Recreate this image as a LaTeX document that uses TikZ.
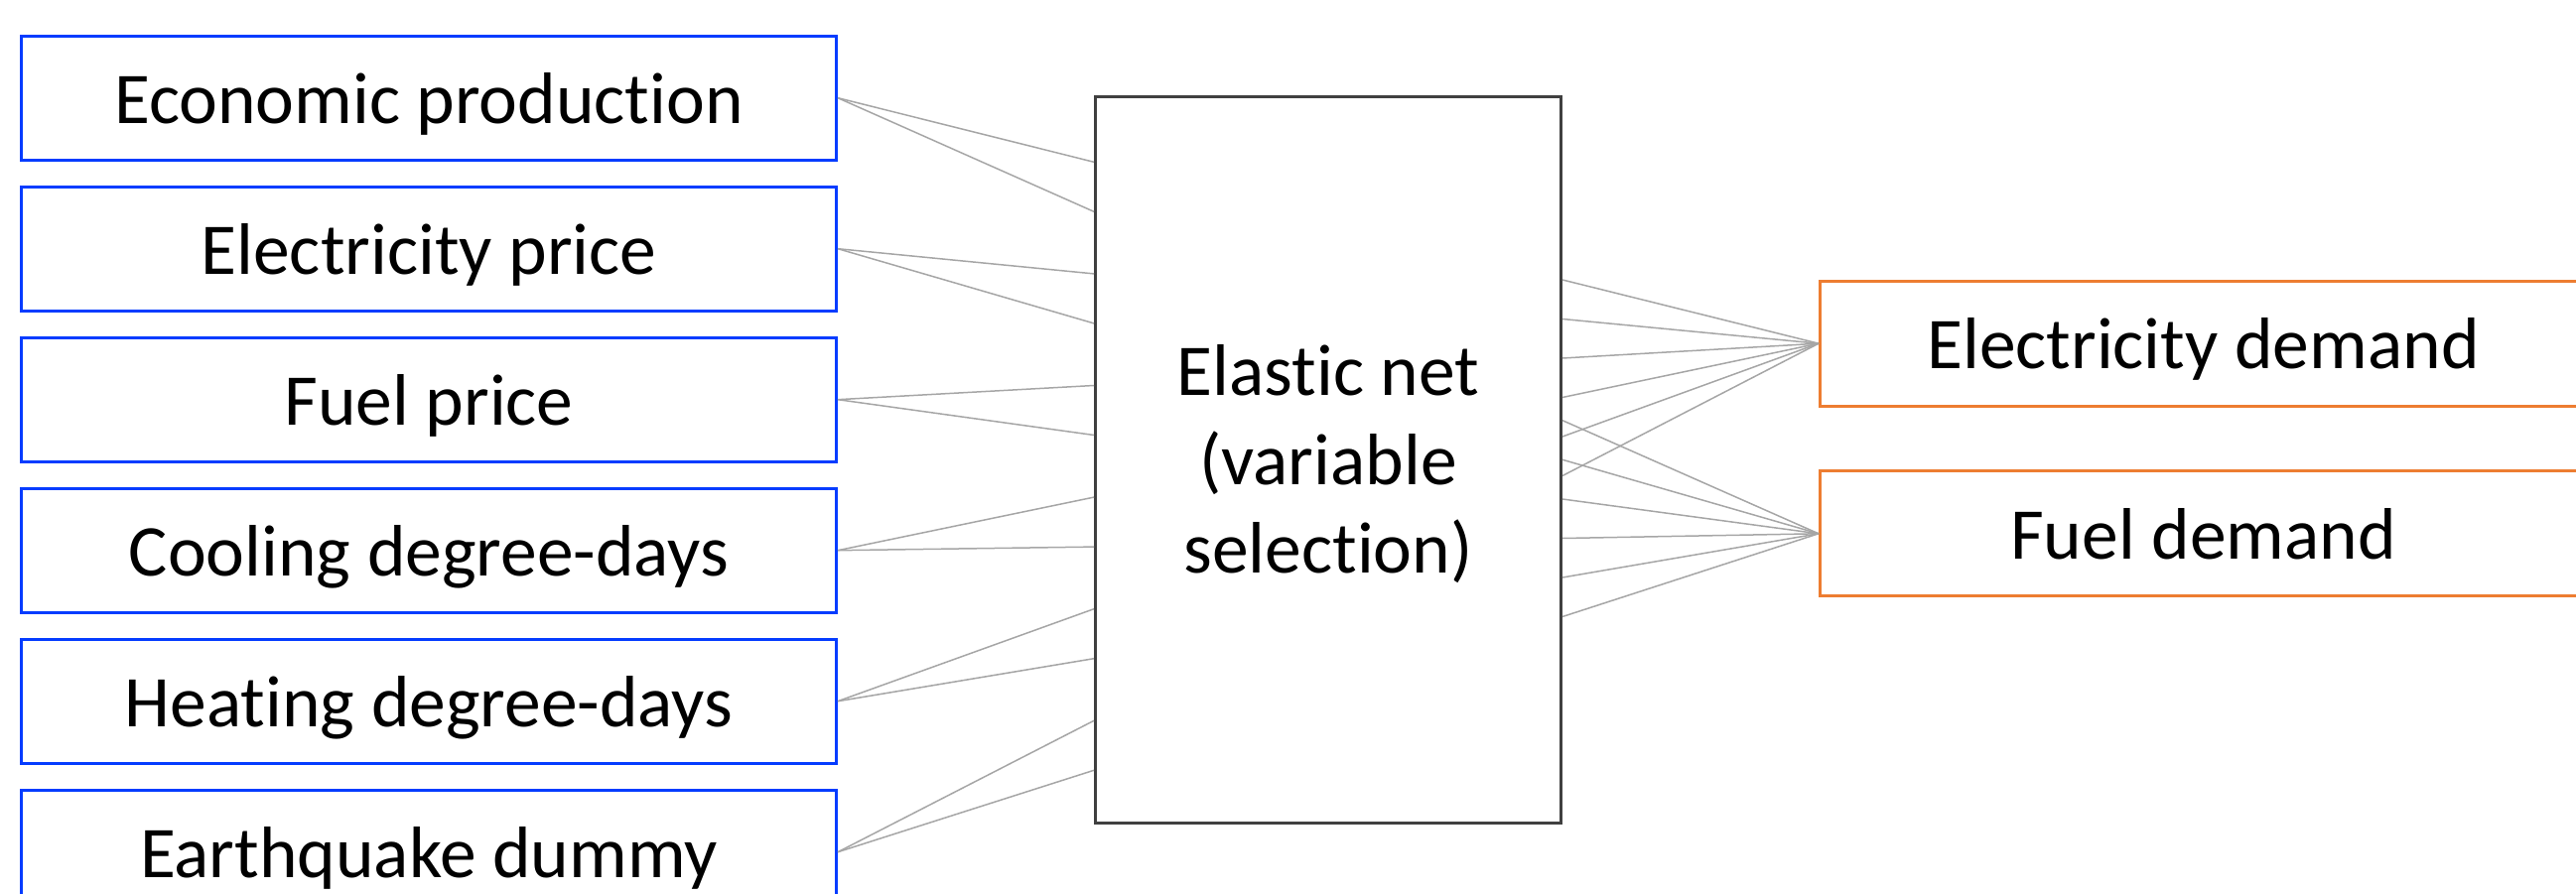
\documentclass[tikz,border=0pt]{standalone}
\usepackage{fontspec}
\setmainfont[Ligatures={NoCommon}]{Carlito}
\definecolor{inblue}{RGB}{5,60,255}
\definecolor{outorange}{RGB}{237,125,49}
\definecolor{boxgray}{RGB}{64,64,64}
\definecolor{linkgray}{RGB}{166,166,166}
\begin{document}
\begin{tikzpicture}[x=1pt,y=-1pt,
  lbl/.style={font=\fontsize{73.5}{89.5}\selectfont, text height=51pt, text depth=0pt, inner sep=0pt},
  inbox/.style={lbl, draw=inblue, line width=3pt, minimum width=821pt, minimum height=125pt},
  outbox/.style={lbl, draw=outorange, line width=3pt, minimum width=772pt, minimum height=126pt},
  netbox/.style={draw=boxgray, line width=3pt, minimum width=469pt, minimum height=732pt,
    align=center, inner sep=0pt, font=\fontsize{73.5}{89.5}\selectfont},
  link/.style={draw=linkgray, line width=1.5pt}]
\useasboundingbox (0,0) rectangle (2595,901);
\clip (0,0) rectangle (2595,901);
\node[inbox] (i1) at (432,98.7) {Economic production};
\node[inbox] (i2) at (432,250.7) {Electricity price};
\node[inbox] (i3) at (432,402.7) {Fuel price};
\node[inbox] (i4) at (432,554.7) {Cooling degree-days};
\node[inbox] (i5) at (432,706.7) {Heating degree-days};
\node[inbox] (i6) at (432,858.7) {Earthquake dummy};
\node[netbox] (net) at (1338,463.4) {\rule{0pt}{60pt}Elastic net\\(variable\\selection)};
\node[outbox] (o1) at (2219.5,346.2) {Electricity demand};
\node[outbox] (o2) at (2219.5,537.8) {Fuel demand};
\foreach \k/\a/\b in {1/163.3/213.3, 2/275.9/325.9, 3/388.5/438.5, 4/501.1/551.1, 5/613.7/663.7, 6/726.3/776.3}{
  \draw[link] (i\k.east) -- (net.west |- 0,\a);
  \draw[link] (i\k.east) -- (net.west |- 0,\b);
}
\foreach \y in {282,321.5,361,400.5,440,479.5}{
  \draw[link] (net.east |- 0,\y) -- (o1.west);
}
\foreach \y in {423.7,463.3,503,542.5,582,621.5}{
  \draw[link] (net.east |- 0,\y) -- (o2.west);
}
\end{tikzpicture}
\end{document}
